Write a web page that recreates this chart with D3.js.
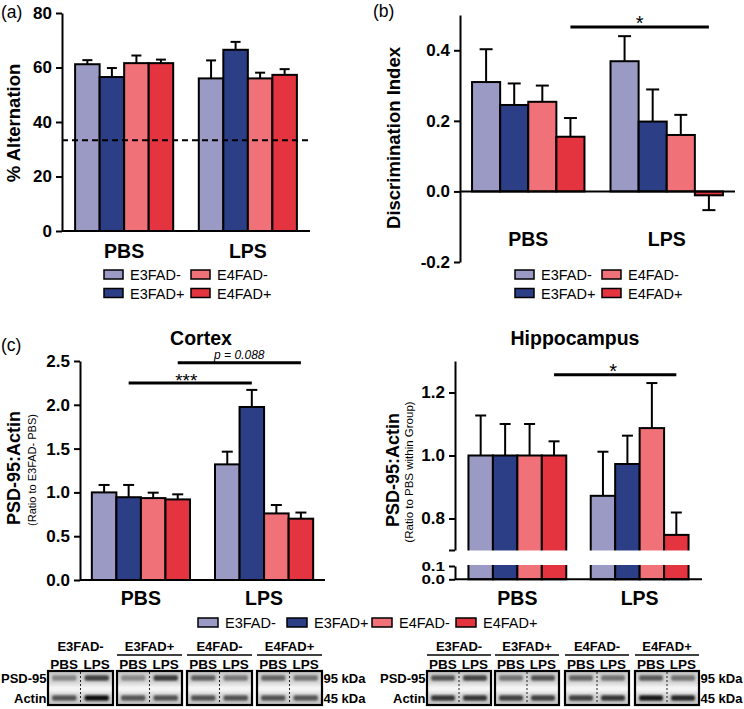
<!DOCTYPE html>
<html><head><meta charset="utf-8">
<script src="https://cdn.jsdelivr.net/npm/d3@7"></script>
<style>
body{margin:0;background:#fff}
svg{display:block}
text{font-family:"Liberation Sans",Arial,Helvetica,sans-serif;fill:#000}
</style>
</head><body>
<svg id="chart" width="744" height="709"></svg>
<script>
// ---------- data ----------
const series = ["E3FAD-", "E3FAD+", "E4FAD-", "E4FAD+"];
const colors = ["#9a9ac4", "#2c3e86", "#f07278", "#e3343f"];
const conditions = ["PBS", "LPS"];

// (a) % Alternation
const altPBS = [61.2, 56.5, 61.6, 61.6];
const altPBSsem = [1.5, 3.3, 2.8, 1.3];
const altLPS = [56.0, 66.5, 56.0, 57.3];
const altLPSsem = [6.6, 2.9, 2.1, 2.1];
const altTicks = [0, 20, 40, 60, 80];
const chanceLevel = 33.3;

// (b) Discrimination index
const diPBS = [0.31, 0.245, 0.254, 0.155];
const diPBSsem = [0.093, 0.061, 0.046, 0.053];
const diLPS = [0.369, 0.198, 0.16, -0.011];
const diLPSsem = [0.071, 0.091, 0.057, 0.042];
const diTicks = [-0.2, 0.0, 0.2, 0.4];

// (c) Cortex PSD-95:Actin
const ctxPBS = [1.0, 0.945, 0.935, 0.92];
const ctxPBSsem = [0.085, 0.14, 0.062, 0.058];
const ctxLPS = [1.32, 1.975, 0.76, 0.70];
const ctxLPSsem = [0.145, 0.195, 0.096, 0.07];
const ctxTicks = [0.0, 0.5, 1.0, 1.5, 2.0, 2.5];

// (c) Hippocampus PSD-95:Actin
const hipPBS = [1.0, 1.0, 1.0, 1.0];
const hipPBSsem = [0.127, 0.10, 0.10, 0.045];
const hipLPS = [0.872, 0.973, 1.087, 0.748];
const hipLPSsem = [0.14, 0.09, 0.143, 0.071];
const hipTicksUpper = [0.7, 0.8, 1.0, 1.2];
const hipTicksLower = [0.0, 0.1];

// Western blot band intensities (0..1) : [PBS, LPS] per group
const ctxPSD = [[0.35, 0.72], [0.33, 0.75], [0.55, 0.42], [0.52, 0.45]];
const ctxActin = [[0.62, 0.98], [0.6, 0.62], [0.62, 0.62], [0.62, 0.6]];
const hipPSD = [[0.62, 0.7], [0.45, 0.62], [0.52, 0.45], [0.58, 0.45]];
const hipActin = [[0.78, 0.78], [0.72, 0.72], [0.72, 0.78], [0.92, 0.85]];
const blotRows = ["PSD-95", "Actin"];
const blotSizes = ["95 kDa", "45 kDa"];

// ---------- drawing ----------
const svg = d3.select("#chart");
const defs = svg.append("defs");
defs.append("filter").attr("id", "blur").attr("x", "-20%").attr("y", "-50%").attr("width", "140%").attr("height", "200%")
  .append("feGaussianBlur").attr("stdDeviation", 0.9);
const bg = defs.append("linearGradient").attr("id", "blotbg").attr("x1", 0).attr("y1", 0).attr("x2", 0).attr("y2", 1);
bg.append("stop").attr("offset", "0%").attr("stop-color", "#c9c9c9");
bg.append("stop").attr("offset", "35%").attr("stop-color", "#d8d8d8");
bg.append("stop").attr("offset", "48%").attr("stop-color", "#f4f4f4");
bg.append("stop").attr("offset", "56%").attr("stop-color", "#f4f4f4");
bg.append("stop").attr("offset", "70%").attr("stop-color", "#d6d6d6");
bg.append("stop").attr("offset", "100%").attr("stop-color", "#c4c4c4");

function styleAxis(g, fs) {
  g.select(".domain").attr("stroke", "#000").attr("stroke-width", 2);
  g.selectAll(".tick line").attr("stroke", "#000").attr("stroke-width", 2);
  g.selectAll(".tick text").attr("font-size", fs).attr("font-weight", "bold")
    .attr("font-family", "'Liberation Sans',Arial,sans-serif").attr("fill", "#000");
}

function drawBars(cfg) {
  const g = svg.append("g");
  const x = d3.scaleBand().domain(conditions).range([cfg.x0, cfg.x1])
    .paddingInner(cfg.pi).paddingOuter(cfg.po);
  const xs = d3.scaleBand().domain(series).range([0, x.bandwidth()]);
  const y = cfg.y;
  const means = [cfg.pbs, cfg.lps], sems = [cfg.pbsSem, cfg.lpsSem];
  conditions.forEach((c, ci) => {
    series.forEach((s, si) => {
      const v = means[ci][si], e = sems[ci][si];
      const cx = x(c) + xs(s) + xs.bandwidth() / 2;
      const top = v >= 0 ? v + e : v - e;
      g.append("line").attr("x1", cx).attr("x2", cx).attr("y1", y(v)).attr("y2", y(top))
        .attr("stroke", "#000").attr("stroke-width", 2);
      g.append("line").attr("x1", cx - cfg.cap / 2).attr("x2", cx + cfg.cap / 2)
        .attr("y1", y(top)).attr("y2", y(top)).attr("stroke", "#000").attr("stroke-width", 2);
    });
  });
  conditions.forEach((c, ci) => {
    series.forEach((s, si) => {
      const v = means[ci][si];
      const y0 = y(0), yv = y(v);
      g.append("rect").attr("x", x(c) + xs(s)).attr("width", xs.bandwidth())
        .attr("y", Math.min(y0, yv)).attr("height", Math.abs(y0 - yv))
        .attr("fill", colors[si]).attr("stroke", "#000").attr("stroke-width", 2);
    });
  });
  return {g, x, xs};
}

function catLabels(x, yb) {
  conditions.forEach(c => {
    svg.append("text").attr("x", x(c) + x.bandwidth() / 2).attr("y", yb)
      .attr("text-anchor", "middle").attr("font-size", 19.5).attr("font-weight", "bold").text(c);
  });
}

function legend2x2(x0, colDx, y0, rowDy) {
  series.forEach((s, i) => {
    const c = i < 2 ? 0 : 1, r = i % 2;
    const gx = x0 + c * colDx, gy = y0 + r * rowDy;
    svg.append("rect").attr("x", gx).attr("y", gy - 10).attr("width", 19).attr("height", 9)
      .attr("fill", colors[i]).attr("stroke", "#000").attr("stroke-width", 1.5);
    svg.append("text").attr("x", gx + 26).attr("y", gy).attr("font-size", 14.5).text(s);
  });
}

function sigLine(x1, x2, yv, label, opts = {}) {
  svg.append("line").attr("x1", x1).attr("x2", x2).attr("y1", yv).attr("y2", yv)
    .attr("stroke", "#000").attr("stroke-width", 3);
  svg.append("text").attr("x", (x1 + x2) / 2 + (opts.dx || 0)).attr("y", yv + (opts.dy || 0))
    .attr("text-anchor", "middle").attr("font-size", opts.fs || 17)
    .attr("font-style", opts.italic ? "italic" : "normal").text(label);
}

function yTitle(x, yc, txt, fs, bold) {
  svg.append("text").attr("transform", `translate(${x},${yc}) rotate(-90)`)
    .attr("text-anchor", "middle").attr("font-size", fs).attr("font-weight", bold ? "bold" : "normal").text(txt);
}

function centerOf(p, cond, s) { return p.x(cond) + p.xs(s) + p.xs.bandwidth() / 2; }

// ===== Panel (a) =====
const yA = d3.scaleLinear().domain([0, 80]).range([231, 13]);
const pA = drawBars({x0: 62, x1: 310, pi: 0.207, po: 0.106, y: yA,
  pbs: altPBS, lps: altLPS, pbsSem: altPBSsem, lpsSem: altLPSsem, cap: 10});
svg.append("line").attr("x1", 62).attr("x2", 312).attr("y1", yA(chanceLevel)).attr("y2", yA(chanceLevel))
  .attr("stroke", "#000").attr("stroke-width", 2.2).attr("stroke-dasharray", "6,4");
svg.append("line").attr("x1", 62).attr("x2", 310).attr("y1", yA(0)).attr("y2", yA(0)).attr("stroke", "#000").attr("stroke-width", 2);
svg.append("g").attr("transform", "translate(62,0)")
  .call(d3.axisLeft(yA).tickValues(altTicks).tickSize(6).tickSizeOuter(0).tickPadding(4).tickFormat(d3.format("d")))
  .call(g => styleAxis(g, 17));
catLabels(pA.x, 258);
legend2x2(104, 87, 280, 18.5);
yTitle(20, 123, "% Alternation", 18.5, true);
svg.append("text").attr("x", 1).attr("y", 18).attr("font-size", 17.5).text("(a)");

// ===== Panel (b) =====
const yB = d3.scaleLinear().domain([-0.2, 0.5]).range([262, 15]);
const pB = drawBars({x0: 460, x1: 735, pi: 0.188, po: 0.087, y: yB,
  pbs: diPBS, lps: diLPS, pbsSem: diPBSsem, lpsSem: diLPSsem, cap: 13});
svg.append("line").attr("x1", 460).attr("x2", 735).attr("y1", yB(0)).attr("y2", yB(0)).attr("stroke", "#000").attr("stroke-width", 2);
svg.append("g").attr("transform", "translate(460,0)")
  .call(d3.axisLeft(yB).tickValues(diTicks).tickSize(6).tickSizeOuter(0).tickPadding(4).tickFormat(d => d.toFixed(1)))
  .call(g => styleAxis(g, 17));
catLabels(pB.x, 246);
legend2x2(515, 87, 280, 18.5);
yTitle(400, 138, "Discrimination Index", 18.5, true);
svg.append("text").attr("x", 373).attr("y", 17).attr("font-size", 17.5).text("(b)");
sigLine(centerOf(pB, "PBS", "E4FAD+"), centerOf(pB, "LPS", "E4FAD+"), yB(0.466), "*", {dy: 3, fs: 20});

// ===== Panel (c) Cortex =====
const yC = d3.scaleLinear().domain([0, 2.5]).range([580, 361]);
const pC = drawBars({x0: 80, x1: 325, pi: 0.203, po: 0.096, y: yC,
  pbs: ctxPBS, lps: ctxLPS, pbsSem: ctxPBSsem, lpsSem: ctxLPSsem, cap: 11});
svg.append("line").attr("x1", 80).attr("x2", 325).attr("y1", yC(0)).attr("y2", yC(0)).attr("stroke", "#000").attr("stroke-width", 2);
svg.append("g").attr("transform", "translate(80,0)")
  .call(d3.axisLeft(yC).tickValues(ctxTicks).tickSize(6).tickSizeOuter(0).tickPadding(4).tickFormat(d => d.toFixed(1)))
  .call(g => styleAxis(g, 17));
catLabels(pC.x, 605);
svg.append("text").attr("x", 201).attr("y", 345).attr("text-anchor", "middle").attr("font-size", 19.5).attr("font-weight", "bold").text("Cortex");
svg.append("text").attr("x", 1).attr("y", 351).attr("font-size", 17.5).text("(c)");
yTitle(20, 468, "PSD-95:Actin", 18, true);
yTitle(36, 470, "(Ratio to E3FAD- PBS)", 11, false);
sigLine(centerOf(pC, "PBS", "E3FAD+"), centerOf(pC, "LPS", "E3FAD+"), yC(2.25), "***", {dy: 4, dx: -4, fs: 19});
sigLine(centerOf(pC, "PBS", "E4FAD+"), centerOf(pC, "LPS", "E4FAD+"), yC(2.48), "p = 0.088", {dy: -4, fs: 12, italic: true});

// ===== Panel (c) Hippocampus (broken axis) =====
const yH = d3.scaleLinear().domain([0, 0.1, 0.7, 1.3]).range([579.3, 566, 550, 361]);
const yHup = d3.scaleLinear().domain([0.7, 1.3]).range([550, 361]);
const yHlo = d3.scaleLinear().domain([0, 0.1]).range([579.3, 566]);
const pH = drawBars({x0: 455, x1: 702, pi: 0.2, po: 0.11, y: yH,
  pbs: hipPBS, lps: hipLPS, pbsSem: hipPBSsem, lpsSem: hipLPSsem, cap: 11});
svg.append("rect").attr("x", 440).attr("y", 550.5).attr("width", 270).attr("height", 14.5).attr("fill", "#fff");
svg.append("line").attr("x1", 455).attr("x2", 702).attr("y1", yHlo(0)).attr("y2", yHlo(0)).attr("stroke", "#000").attr("stroke-width", 2);
svg.append("g").attr("transform", "translate(455,0)")
  .call(d3.axisLeft(yHup).tickValues(hipTicksUpper).tickSize(6).tickSizeOuter(0).tickPadding(4)
    .tickFormat(d => d === 0.7 ? "" : d.toFixed(1)))
  .call(g => styleAxis(g, 17));
svg.append("g").attr("transform", "translate(455,0)")
  .call(d3.axisLeft(yHlo).tickValues(hipTicksLower).tickSize(6).tickSizeOuter(0).tickPadding(4).tickFormat(d => d.toFixed(1)))
  .call(g => {
    styleAxis(g, 17);
    g.selectAll(".tick text").attr("transform", "scale(1,0.78)").attr("dy", "0.32em");
  });
catLabels(pH.x, 605);
svg.append("text").attr("x", 575).attr("y", 345).attr("text-anchor", "middle").attr("font-size", 19.5).attr("font-weight", "bold").text("Hippocampus");
yTitle(399, 470, "PSD-95:Actin", 18, true);
yTitle(413, 472, "(Ratio to PBS within Group)", 11.5, false);
sigLine(centerOf(pH, "PBS", "E4FAD+"), centerOf(pH, "LPS", "E4FAD+"), yHup(1.256), "*", {dy: 3, dx: -2, fs: 20});

// shared legend row for (c)
const legX = [198, 287, 372, 456];
series.forEach((s, i) => {
  svg.append("rect").attr("x", legX[i]).attr("y", 618).attr("width", 20).attr("height", 9)
    .attr("fill", colors[i]).attr("stroke", "#000").attr("stroke-width", 1.5);
  svg.append("text").attr("x", legX[i] + 27).attr("y", 628).attr("font-size", 14.5).text(s);
});

// ===== Western blots =====
function drawBlot(boxX, boxW, psd, act, underline) {
  const g = svg.append("g");
  const top = 671, h = 34;
  boxX.forEach((bx, i) => {
    const cx = bx + boxW / 2;
    g.append("text").attr("x", cx).attr("y", 651).attr("text-anchor", "middle")
      .attr("font-size", 13).attr("font-weight", "bold").text(series[i]);
    if (underline[i]) {
      g.append("line").attr("x1", bx).attr("x2", bx + boxW).attr("y1", 655).attr("y2", 655)
        .attr("stroke", "#000").attr("stroke-width", 1.6);
    }
    conditions.forEach((c, li) => {
      g.append("text").attr("x", bx + boxW * (0.25 + 0.5 * li)).attr("y", 669).attr("text-anchor", "middle")
        .attr("font-size", 13.5).attr("font-weight", "bold").text(c);
    });
    g.append("rect").attr("x", bx).attr("y", top).attr("width", boxW).attr("height", h)
      .attr("fill", "url(#blotbg)");
    [psd, act].forEach((arr, ri) => {
      conditions.forEach((c, li) => {
        const v = arr[i][li];
        const gray = Math.round(200 - 190 * v);
        const lx = bx + boxW * 0.5 * li;
        g.append("rect").attr("x", lx + 4).attr("width", boxW / 2 - 8)
          .attr("y", (ri === 0 ? 678 : 698) - 2.8).attr("height", 5.6).attr("rx", 2)
          .attr("fill", d3.rgb(gray, gray, gray)).attr("filter", "url(#blur)");
      });
    });
    g.append("line").attr("x1", cx).attr("x2", cx).attr("y1", top + 1).attr("y2", top + h - 1)
      .attr("stroke", "#222").attr("stroke-width", 1).attr("stroke-dasharray", "2,2");
    g.append("rect").attr("x", bx).attr("y", top).attr("width", boxW).attr("height", h)
      .attr("fill", "none").attr("stroke", "#000").attr("stroke-width", 2.2);
  });
  blotRows.forEach((r, ri) => {
    g.append("text").attr("x", boxX[0] - 1.5).attr("y", ri === 0 ? 683 : 703).attr("text-anchor", "end")
      .attr("font-size", 13).attr("font-weight", "bold").text(r);
    g.append("text").attr("x", boxX[3] + boxW + 1.5).attr("y", ri === 0 ? 683 : 703)
      .attr("font-size", 13).attr("font-weight", "bold").text(blotSizes[ri]);
  });
}
drawBlot([48, 117, 187, 257], 65, ctxPSD, ctxActin, [false, true, true, true]);
drawBlot([427, 495, 565, 635], 64, hipPSD, hipActin, [true, true, true, true]);
</script>
</body></html>
